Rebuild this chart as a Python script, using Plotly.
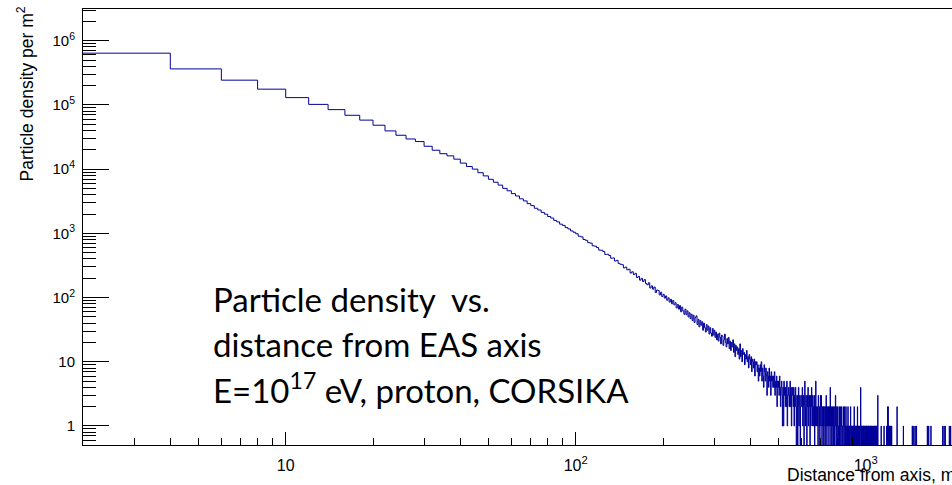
import math
import plotly.graph_objects as go

# ---------------- data ----------------
BIN_WIDTH = 2          # metres
FIRST_EDGE = 2         # first visible bin edge, m
LAST_EDGE = 2000       # end of histogram, m

# bins [2,4), [4,6), ... [98,100)
density_2_100 = [640000, 364000, 243000, 176000, 130000, 102000, 84500, 69000, 58000, 48300,
                 39400, 33700, 29500, 26900, 22700, 19700, 17400, 16100, 14300, 12400,
                 11000, 10000, 8800, 7850, 6950, 6260, 5640, 5020, 4600, 4150,
                 3820, 3450, 3200, 2900, 2700, 2460, 2310, 2120, 1990, 1830,
                 1730, 1590, 1510, 1390, 1330, 1230, 1170, 1090, 1040]

# bins [100,102) ... [298,300)
density_100_300 = [985, 902, 880, 801, 779, 716, 705, 640, 631, 600,
                   548, 545, 521, 470, 472, 452, 410, 414, 371, 380,
                   341, 330, 325, 290, 298, 270, 276, 241, 252, 228,
                   238, 205, 214, 187, 199, 178, 190, 165, 158, 170,
                   141, 152, 135, 146, 120, 131, 129, 110, 121, 104,
                   112, 98, 106, 91, 99, 85, 94, 80, 90, 77,
                   83, 69, 78, 66, 75, 60, 71, 62, 55, 66,
                   54, 62, 50, 58, 47, 55, 44, 53, 41, 49,
                   52, 38, 46, 35, 44, 37, 42, 31, 40, 34,
                   29, 38, 31, 36, 27, 34, 28, 25, 33, 26]

# bins [300,302) ... [598,600)
density_300_600 = [31, 24, 29, 22, 27, 21, 28, 24, 19, 26,
                   25, 18, 22, 27, 20, 17, 23, 19, 24, 16,
                   21, 15, 20, 17, 22, 14, 19, 12, 18, 15,
                   17, 13, 16, 11, 19, 12, 15, 10, 16, 13,
                   14, 9, 13, 11, 15, 10, 12, 8, 13, 11,
                   9, 12, 7, 11, 10, 8, 11, 6, 10, 9,
                   10, 7, 9, 5, 8, 6, 9, 7, 10, 5,
                   8, 6, 4, 9, 7, 5, 8, 6, 3, 7,
                   6, 4, 8, 5, 6, 3, 7, 5, 6, 4,
                   6, 4, 7, 3, 5, 4, 6, 2, 5, 4,
                   5, 3, 6, 4, 2, 4, 5, 3, 1, 4,
                   1, 5, 3, 4, 2, 4, 2, 5, 1, 3,
                   3, 4, 2, 3, 5, 2, 4, 1, 3, 4,
                   3, 2, 4, 1, 3, 2, 4, 3, 0, 2,
                   3, 0, 2, 4, 1, 2, 3, 0, 2, 3]

# bins [600,602) ... [1298,1300)
density_600_1300 = [3, 2, 4, 1, 2, 3, 0, 2, 5, 2,
                    1, 3, 2, 0, 3, 2, 4, 1, 2, 3,
                    2, 0, 3, 1, 2, 4, 2, 1, 3, 2,
                    1, 2, 3, 0, 2, 1, 5, 2, 1, 2,
                    2, 1, 0, 3, 2, 1, 2, 0, 2, 3,
                    1, 3, 2, 0, 1, 2, 1, 2, 0, 2,
                    2, 1, 0, 2, 1, 3, 1, 0, 2, 1,
                    1, 2, 1, 0, 2, 1, 2, 4, 1, 0,
                    2, 1, 0, 1, 2, 1, 0, 2, 1, 1,
                    0, 2, 1, 3, 1, 0, 1, 2, 0, 1,
                    2, 1, 0, 1, 1, 2, 0, 1, 2, 1,
                    0, 1, 2, 1, 0, 1, 1, 0, 2, 1,
                    1, 0, 2, 1, 1, 0, 1, 2, 0, 1,
                    1, 1, 0, 1, 2, 0, 1, 0, 1, 1,
                    0, 1, 1, 2, 0, 1, 0, 1, 1, 0,
                    1, 0, 1, 1, 0, 1, 2, 0, 1, 0,
                    1, 1, 0, 1, 0, 1, 1, 0, 2, 1,
                    0, 1, 0, 1, 1, 0, 1, 0, 1, 1,
                    4, 0, 1, 1, 0, 1, 0, 1, 0, 1,
                    1, 0, 1, 0, 1, 1, 0, 0, 1, 1,
                    0, 1, 1, 0, 1, 0, 1, 0, 0, 1,
                    1, 0, 1, 1, 0, 0, 1, 0, 1, 0,
                    1, 1, 0, 1, 0, 1, 0, 0, 1, 1,
                    0, 1, 0, 0, 1, 1, 0, 1, 0, 0,
                    1, 0, 1, 0, 1, 1, 0, 1, 0, 0,
                    3, 0, 0, 0, 0, 0, 0, 0, 0, 0,
                    0, 0, 0, 0, 0, 1, 0, 0, 0, 0,
                    0, 0, 0, 0, 0, 0, 0, 0, 1, 0,
                    0, 0, 0, 0, 0, 0, 0, 0, 0, 0,
                    1, 0, 1, 1, 0, 2, 0, 2, 1, 0,
                    1, 1, 0, 1, 0, 1, 1, 0, 1, 0,
                    0, 1, 0, 0, 1, 0, 0, 0, 0, 0,
                    0, 0, 0, 0, 0, 0, 0, 0, 0, 0,
                    0, 0, 0, 0, 0, 0, 0, 0, 0, 0,
                    0, 2, 0, 0, 0, 0, 0, 0, 0, 0]

# sparse far tail (1300 - 2000 m): lower edges of non-empty bins and contents
far_tail_bins = [1348, 1446, 1448, 1464, 1480, 1496, 1630, 1632, 1648, 1678,
                 1842, 1862, 1880, 1942, 1962]
far_tail_values = [1, 1, 1, 1, 1, 1, 1, 1, 1, 1, 1, 1, 1, 1, 1]

x_tick_vals = [10, 100, 1000]
x_tick_text = ["10", "10<sup>2</sup>", "10<sup>3</sup>"]
y_tick_vals = [1, 10, 100, 1000, 10000, 100000, 1000000]
y_tick_text = ["1", "10", "10<sup>2</sup>", "10<sup>3</sup>", "10<sup>4</sup>",
               "10<sup>5</sup>", "10<sup>6</sup>"]

# ---------------- assemble histogram ----------------
n_far = (LAST_EDGE - 1300) // BIN_WIDTH
far_tail = [0] * n_far
for b, v in zip(far_tail_bins, far_tail_values):
    far_tail[(b - 1300) // BIN_WIDTH] = v

values = density_2_100 + density_100_300 + density_300_600 + density_600_1300 + far_tail
edges = [FIRST_EDGE + BIN_WIDTH * i for i in range(len(values) + 1)]
# empty bins drop below the frame on a log axis (as ROOT draws them)
plot_vals = [v if v > 0 else 1e-3 for v in values]
xs = edges
ys = plot_vals + [plot_vals[-1]]

# ---------------- geometry ----------------
W, H = 952, 485
L, R, T, B = 83, 0, 9, 40
PW = W - L - R
PH = H - T - B
PX_PER_DEC = 290.0
x_range = [math.log10(2), math.log10(2) + PW / PX_PER_DEC]
y_range = [-0.296, 6.494]

def xp(px):
    return (px - L) / PW

def yp(py):
    return (H - B - py) / PH

x_minor = [k * 10 ** d for d in range(0, 4) for k in range(2, 10)
           if 2 <= k * 10 ** d <= 2000]
y_minor = [k * 10.0 ** d for d in range(-1, 7) for k in range(2, 10)
           if 0.5 <= k * 10.0 ** d <= 3.1e6]

fig = go.Figure()
fig.add_trace(go.Scatter(
    x=xs, y=ys, mode="lines", line=dict(color="#000099", width=1, shape="hv"),
    hoverinfo="skip", showlegend=False))

AX_FONT = "Liberation Sans, Arial, Helvetica, sans-serif"

fig.update_layout(
    width=W, height=H,
    margin=dict(l=L, r=R, t=T, b=B, pad=0),
    paper_bgcolor="white", plot_bgcolor="white",
    showlegend=False,
    xaxis=dict(
        type="log", range=x_range, showgrid=False, zeroline=False,
        showline=True, linecolor="black", linewidth=1, mirror=True,
        ticks="inside", ticklen=13, tickwidth=1, tickcolor="black",
        tickmode="array", tickvals=x_tick_vals, ticktext=x_tick_text,
        tickfont=dict(family=AX_FONT, size=16, color="black"),
        ticklabelstandoff=6,
        minor=dict(tickmode="array", tickvals=x_minor, ticks="inside",
                   ticklen=7, tickwidth=1, tickcolor="black", showgrid=False),
    ),
    yaxis=dict(
        type="log", range=y_range, showgrid=False, zeroline=False,
        showline=True, linecolor="black", linewidth=1, mirror=False,
        ticks="inside", ticklen=26, tickwidth=1, tickcolor="black",
        tickmode="array", tickvals=y_tick_vals, ticktext=y_tick_text,
        tickfont=dict(family=AX_FONT, size=15, color="black"),
        ticklabelstandoff=4,
        minor=dict(tickmode="array", tickvals=y_minor, ticks="inside",
                   ticklen=13, tickwidth=1, tickcolor="black", showgrid=False),
    ),
)

annots = [
    dict(text="Particle density per m<sup>2</sup>", textangle=-90,
         x=xp(25), y=yp(5), xanchor="center", yanchor="top",
         font=dict(family=AX_FONT, size=17.5, color="black")),
    dict(text="Distance from axis, m",
         x=xp(785), y=yp(475), xanchor="left", yanchor="middle",
         font=dict(family=AX_FONT, size=17.5, color="black")),
]
NOTE_FONT = dict(family="Lato, Carlito, Calibri, sans-serif", size=33, color="black")
note_lines = ["Particle density  vs.", "distance from EAS axis",
              "E=10<sup>17</sup> eV, proton, CORSIKA"]
note_mid_y = [299, 344, 388]
for txt, py in zip(note_lines, note_mid_y):
    annots.append(dict(text=txt, x=xp(211), y=yp(py), xanchor="left",
                       yanchor="middle", font=NOTE_FONT))
for a in annots:
    a.update(xref="paper", yref="paper", showarrow=False)
fig.update_layout(annotations=annots)

fig.write_html("out.html")
